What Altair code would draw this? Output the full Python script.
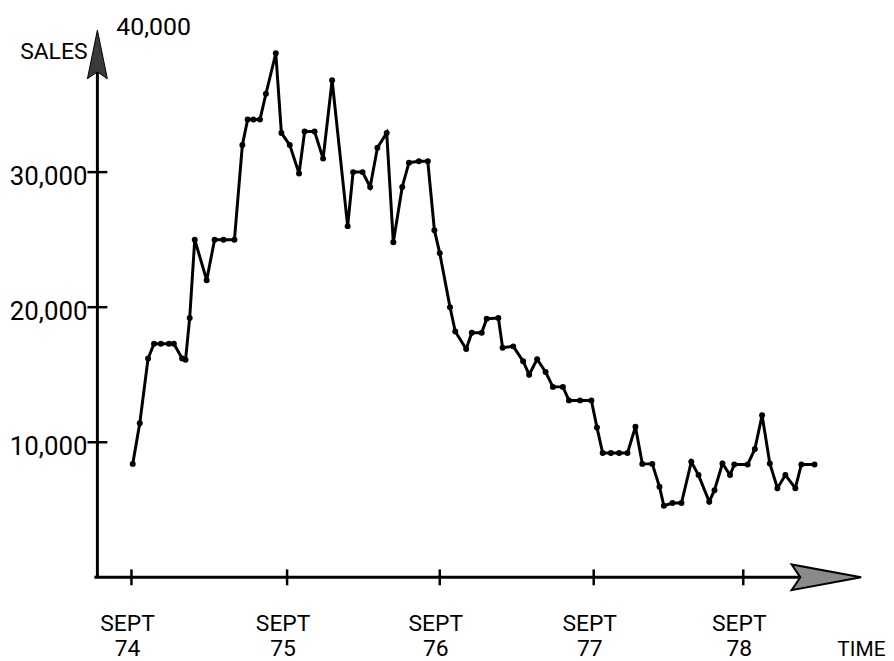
import altair as alt
import pandas as pd

# ---- data (months after Sept 74, sales) ----
months = [0.1, 0.64, 1.28, 1.74, 2.27, 2.89, 3.27, 3.91, 4.17, 4.49, 4.88, 5.80,
          6.41, 7.10, 7.94, 8.55, 8.96, 9.40, 9.91, 10.37, 11.13, 11.56,
          12.21, 12.94, 13.38, 14.16, 14.83, 15.54, 16.76, 17.19, 17.93, 18.53,
          19.10, 19.83, 20.35, 21.05, 21.58, 22.36, 23.06, 23.58, 24.00,
          24.80, 25.21, 26.06, 26.50, 27.27, 27.66, 28.57, 28.90, 29.73, 30.50,
          30.97, 31.59, 32.25, 32.82, 33.60, 34.07, 34.94, 35.82,
          36.26, 36.72, 37.38, 38.04, 38.71, 39.35, 39.90, 40.70, 41.28, 41.63,
          42.32, 43.04, 43.83, 44.41, 45.27, 45.69, 46.33, 46.94, 47.28, 48.35,
          48.93, 49.51, 50.13, 50.74, 51.38, 52.18, 52.66, 53.72]
sales = [8400, 11400, 16200, 17300, 17300, 17300, 17300, 16200, 16100, 19200, 25000, 22000,
         25000, 25000, 25000, 32000, 33900, 33900, 33900, 35800, 38800, 32900,
         32000, 29900, 33000, 33000, 31000, 36800, 26000, 30000, 30000, 28900,
         31800, 32900, 24800, 28900, 30700, 30800, 30800, 25700, 24000,
         20000, 18200, 16900, 18100, 18100, 19150, 19200, 17000, 17100, 16000,
         15000, 16150, 15200, 14100, 14100, 13100, 13100, 13100,
         11100, 9200, 9200, 9200, 9200, 11150, 8400, 8400, 6700, 5300,
         5500, 5500, 8550, 7570, 5600, 6450, 8430, 7570, 8360, 8360,
         9500, 12000, 8430, 6600, 7570, 6600, 8360, 8360]

tick_months = [0, 12, 24, 36, 48]
tick_labels = ["SEPT\n74", "SEPT\n75", "SEPT\n76", "SEPT\n77", "SEPT\n78"]
y_ticks = [10000, 20000, 30000]
y_labels = ["10,000", "20,000", "30,000"]
top_label = "40,000"
y_title = "SALES"
x_title = "TIME"

FONT = "Roboto"
W, H = 772, 551

xs = alt.Scale(domain=[-2.63, 0, 12, 24, 36, 48, 57.7],
               range=[0, 34.3, 191, 344.7, 499.7, 650.3, 772])
ys = alt.Scale(domain=[0, 40515], nice=False, zero=False)

df = pd.DataFrame({"month": months, "sales": sales})
one = pd.DataFrame({"k": [0]})
xt_df = pd.DataFrame({"m": tick_months, "lab": tick_labels})
yt_df = pd.DataFrame({"v": y_ticks, "lab": y_labels})

line = alt.Chart(df).mark_line(color="black", strokeWidth=3).encode(
    x=alt.X("month:Q", scale=xs, axis=None),
    y=alt.Y("sales:Q", scale=ys, axis=None),
)
pts = alt.Chart(df).mark_circle(color="black", size=36, opacity=1).encode(
    x=alt.X("month:Q", scale=xs, axis=None),
    y=alt.Y("sales:Q", scale=ys, axis=None),
)

y_axis = alt.Chart(one).mark_rule(color="black", strokeWidth=3).encode(
    x=alt.value(0), y=alt.value(40), y2=alt.value(H))
x_axis = alt.Chart(one).mark_rule(color="black", strokeWidth=3).encode(
    y=alt.value(H), x=alt.value(-3), x2=alt.value(720))

y_arrow = alt.Chart(one).mark_point(
    shape="M0,-1 L0.41,1 L0,0.72 L-0.41,1 Z", filled=True, fill="#3a3a3a",
    stroke="black", strokeWidth=1, size=2401, opacity=1).encode(
    x=alt.value(0), y=alt.value(24.5))
x_arrow = alt.Chart(one).mark_point(
    shape="M1,0 L-1,-0.37 L-0.75,0 L-1,0.37 Z", filled=True, fill="#8a8a8a",
    stroke="black", strokeWidth=2, size=4900, opacity=1).encode(
    x=alt.value(734), y=alt.value(H))

x_ticks = alt.Chart(xt_df).mark_rule(color="black", strokeWidth=2.5).encode(
    x=alt.X("m:Q", scale=xs, axis=None), y=alt.value(H - 8), y2=alt.value(H + 8))
y_tick_marks = alt.Chart(yt_df).mark_rule(color="black", strokeWidth=2.5).encode(
    y=alt.Y("v:Q", scale=ys, axis=None), x=alt.value(-10), x2=alt.value(10))

x_lab = alt.Chart(xt_df).mark_text(
    font=FONT, fontSize=23, lineBreak="\n", lineHeight=25, align="center",
    baseline="alphabetic", dx=-4, color="black").encode(
    x=alt.X("m:Q", scale=xs, axis=None), y=alt.value(605), text="lab:N")
y_lab = alt.Chart(yt_df).mark_text(
    font=FONT, fontSize=26, align="right", baseline="middle", dy=5,
    color="black").encode(
    y=alt.Y("v:Q", scale=ys, axis=None), x=alt.value(-10), text="lab:N")

top_txt = alt.Chart(one).mark_text(
    font=FONT, fontSize=25, align="left", baseline="alphabetic",
    color="black", text=top_label).encode(x=alt.value(19), y=alt.value(5))
sales_txt = alt.Chart(one).mark_text(
    font=FONT, fontSize=23, align="right", baseline="alphabetic",
    color="black", text=y_title).encode(x=alt.value(-10), y=alt.value(29))
time_txt = alt.Chart(one).mark_text(
    font=FONT, fontSize=21, align="left", baseline="alphabetic",
    color="black", text=x_title).encode(x=alt.value(745), y=alt.value(630))

chart = alt.layer(
    y_axis, x_axis, x_ticks, y_tick_marks, y_arrow, x_arrow,
    line, pts, x_lab, y_lab, top_txt, sales_txt, time_txt,
).properties(
    width=W, height=H,
    padding={"left": 90, "top": 20, "right": 22, "bottom": 82},
    autosize=alt.AutoSizeParams(type="none"),
    background="white",
).configure_view(stroke=None)

chart.save("out.html", embed_options={"renderer": "svg", "actions": False})
